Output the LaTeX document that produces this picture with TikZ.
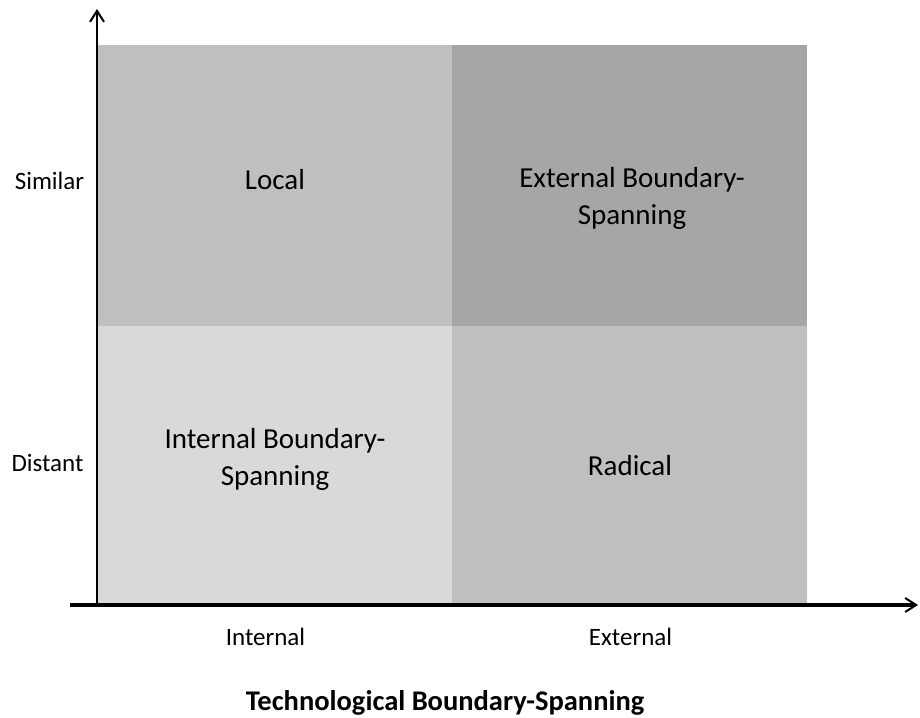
\documentclass[tikz,border=0pt]{standalone}
\usepackage{fontspec}
\setmainfont{Carlito}
\usetikzlibrary{arrows.meta}
\definecolor{qA}{HTML}{BFBFBF}
\definecolor{qB}{HTML}{A6A6A6}
\definecolor{qC}{HTML}{D9D9D9}
\definecolor{qD}{HTML}{BFBFBF}
\tikzset{
  quad/.style={inner sep=0pt, align=center, anchor=base, font=\fontsize{29}{36.5}\selectfont},
  axlab/.style={inner sep=0pt, anchor=base, font=\fontsize{25}{30}\selectfont},
  axline/.style={line width=#1, -{Straight Barb[length=11pt,width=14pt,line width=2pt]}},
}
\begin{document}
\begin{tikzpicture}[x=1pt,y=-1pt]
\useasboundingbox (0,0) rectangle (920,717);
\fill[qA] (97,45) rectangle (452,326);
\fill[qB] (452,45) rectangle (807,326);
\fill[qC] (97,326) rectangle (452,605);
\fill[qD] (452,326) rectangle (807,605);
\node[quad] (local) at (275,189) {Local};
\node[quad] (ext) at (632,224) {External Boundary-\\Spanning};
\node[quad] (int) at (275,485) {Internal Boundary-\\Spanning};
\node[quad] (rad) at (630,475) {Radical};
\coordinate (o) at (97,605);
\coordinate (ytip) at (97,9);
\coordinate (xs) at (70,605);
\coordinate (xtip) at (918,605);
\draw[axline=2pt] (o) -- (ytip);
\draw[axline=3.5pt] (xs) -- (xtip);
\node[axlab] (sim) at (49.5,189) {Similar};
\node[axlab] (dis) at (47.5,471) {Distant};
\node[axlab] (inl) at (265.5,645) {Internal};
\node[axlab] (exl) at (630.5,645) {External};
\node[inner sep=0pt, anchor=base, font=\fontsize{28.5}{34}\selectfont\bfseries] (title) at (445,710) {Technological Boundary-Spanning};
\end{tikzpicture}
\end{document}
